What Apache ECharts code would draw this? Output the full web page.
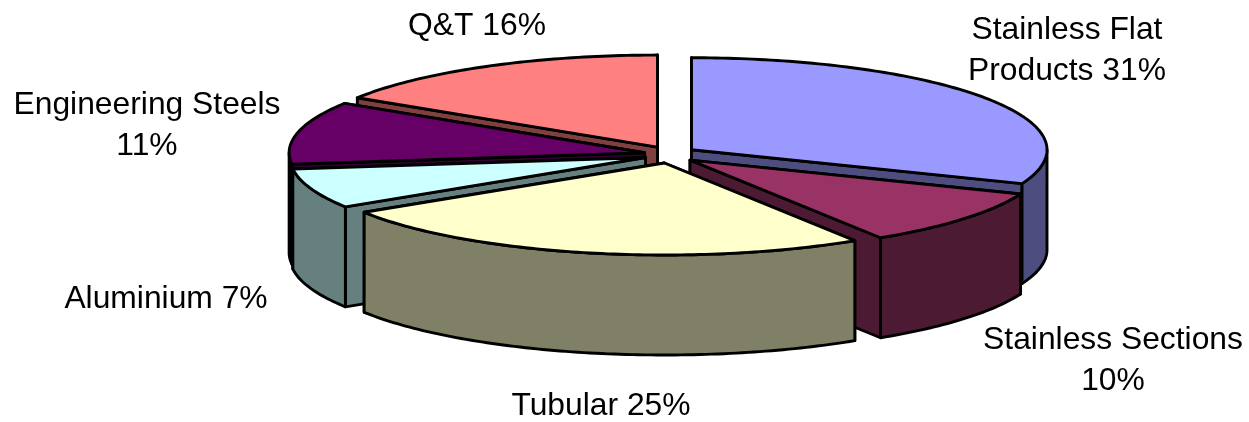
<!DOCTYPE html>
<html>
<head>
<meta charset="utf-8">
<style>html,body{margin:0;padding:0;background:#fff}#c{width:1249px;height:422px}</style>
<script src="https://cdn.jsdelivr.net/npm/echarts@6/dist/echarts.min.js"></script>
</head>
<body>
<div id="c"></div>
<script>
var categories = ['Stainless Flat Products', 'Stainless Sections', 'Tubular', 'Aluminium', 'Engineering Steels', 'Q&T'];
var shares = [31, 10, 25, 7, 11, 16];
var labelTexts = ['Stainless Flat\nProducts 31%', 'Stainless Sections\n10%', 'Tubular 25%', 'Aluminium 7%', 'Engineering Steels\n11%', 'Q&T 16%'];
var topColors = ['#9999FF', '#993366', '#FFFFCC', '#CCFFFF', '#660066', '#FF8080'];
var sideColors = ['#4D4D80', '#4D1A33', '#808066', '#668080', '#330033', '#804040'];
var drawOrder = [5, 0, 4, 1, 3, 2];

var labelPlaces = [
  {x: 1067, y: 51, align: 'center'},
  {x: 1113, y: 361, align: 'center'},
  {x: 601, y: 406, align: 'center'},
  {x: 166, y: 299, align: 'center'},
  {x: 147, y: 126, align: 'center'},
  {x: 477, y: 26, align: 'center'}
];

var PIE = {cx: 670, cy: 154.6, rx: 355.5, ry: 92, depth: 100, ex: 26, ey: 8.6};
var total = shares.reduce(function (a, b) { return a + b; }, 0);
var starts = [];
shares.reduce(function (acc, v, i) { starts[i] = acc; return acc + v; }, 0);

function rim(c, t) { return [c[0] + PIE.rx * Math.sin(t), c[1] - PIE.ry * Math.cos(t)]; }
function arcPoints(c, a, b) {
  var pts = [], n = Math.max(2, Math.ceil(Math.abs(b - a) / (Math.PI / 180)));
  for (var i = 0; i <= n; i++) pts.push(rim(c, a + (b - a) * i / n));
  return pts;
}
function down(p) { return [p[0], p[1] + PIE.depth]; }

function renderItem(params, api) {
  var i = api.value(0), v = api.value(1), s = api.value(2);
  var a = s / total * 2 * Math.PI, b = (s + v) / total * 2 * Math.PI, m = (a + b) / 2;
  var c = [PIE.cx + PIE.ex * Math.sin(m), PIE.cy - PIE.ey * Math.cos(m)];
  var line = {stroke: '#000', lineWidth: 2.9, lineJoin: 'round'};
  function poly(points, fill) {
    return {type: 'polygon', shape: {points: points}, style: Object.assign({fill: fill}, line)};
  }
  var kids = [];
  // Radial walls: the one turned away from the viewer goes first.
  var walls = Math.sin(a) < 0 ? [b, a] : [a, b];
  walls.forEach(function (t) {
    var r = rim(c, t);
    kids.push(poly([c, r, down(r), down(c)], sideColors[i]));
  });
  var fa = Math.max(a, Math.PI / 2), fb = Math.min(b, 3 * Math.PI / 2);
  if (fb > fa) {
    var arc = arcPoints(c, fa, fb);
    kids.push(poly(arc.concat(arc.slice().reverse().map(down)), sideColors[i]));
  }
  kids.push(poly([c].concat(arcPoints(c, a, b)), topColors[i]));
  return {type: 'group', children: kids};
}

var chart = echarts.init(document.getElementById('c'), null, {renderer: 'canvas'});
chart.setOption({
  animation: false,
  backgroundColor: '#ffffff',
  graphic: labelTexts.map(function (t, i) {
    return {
      type: 'text', x: labelPlaces[i].x, y: labelPlaces[i].y, z: 10,
      style: {text: t, fill: '#000', font: '31.8px "Liberation Sans", Arial, sans-serif',
              align: labelPlaces[i].align, verticalAlign: 'middle', lineHeight: 41}
    };
  }),
  series: [{
    type: 'custom',
    coordinateSystem: 'none',
    renderItem: renderItem,
    data: drawOrder.map(function (i) {
      return {name: categories[i], value: [i, shares[i], starts[i]]};
    })
  }]
});
</script>
</body>
</html>
